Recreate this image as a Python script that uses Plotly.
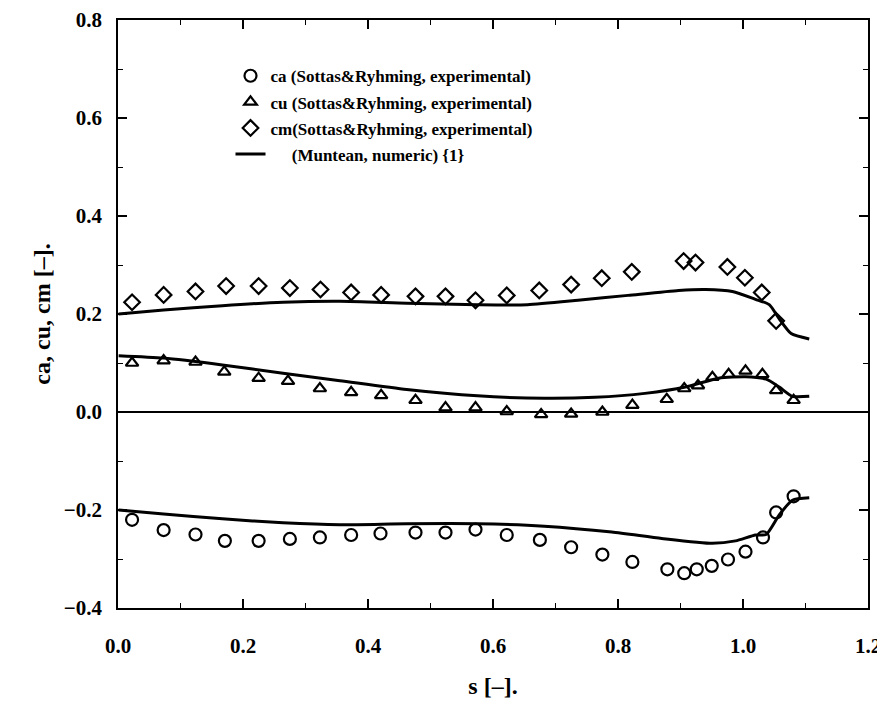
import plotly.graph_objects as go

# ---- experimental data (Sottas & Ryhming) ----
ca_s = [0.0225, 0.073, 0.124, 0.171, 0.225, 0.275, 0.323, 0.373, 0.420, 0.476, 0.524, 0.572,
        0.622, 0.675, 0.725, 0.775, 0.823, 0.879, 0.906, 0.926, 0.950, 0.976, 1.004, 1.032, 1.053, 1.081]
ca_v = [-0.220, -0.241, -0.250, -0.263, -0.263, -0.259, -0.256, -0.251, -0.248, -0.246, -0.246, -0.240,
        -0.251, -0.261, -0.276, -0.291, -0.306, -0.321, -0.329, -0.321, -0.314, -0.301, -0.285, -0.256, -0.205, -0.172]

cu_s = [0.0225, 0.073, 0.124, 0.170, 0.225, 0.272, 0.323, 0.373, 0.421, 0.476, 0.524, 0.572,
        0.622, 0.677, 0.725, 0.775, 0.823, 0.878, 0.906, 0.928, 0.951, 0.977, 1.004, 1.031, 1.053, 1.081]
cu_v = [0.100, 0.105, 0.102, 0.082, 0.069, 0.063, 0.048, 0.040, 0.034, 0.024, 0.009, 0.009,
        0.001, -0.005, -0.004, 0.000, 0.014, 0.026, 0.048, 0.054, 0.071, 0.077, 0.084, 0.077, 0.044, 0.024]

cm_s = [0.0225, 0.073, 0.124, 0.173, 0.225, 0.275, 0.324, 0.373, 0.421, 0.476, 0.524, 0.572,
        0.622, 0.674, 0.725, 0.774, 0.822, 0.905, 0.924, 0.975, 1.003, 1.030, 1.053]
cm_v = [0.224, 0.239, 0.246, 0.257, 0.257, 0.253, 0.250, 0.244, 0.239, 0.236, 0.236, 0.228,
        0.238, 0.248, 0.260, 0.273, 0.286, 0.308, 0.305, 0.296, 0.274, 0.244, 0.186]

# ---- numeric data (Muntean) ----
ca_num_s = [0.001, 0.073, 0.167, 0.264, 0.355, 0.462, 0.575, 0.682, 0.790, 0.870, 0.951, 0.988,
            1.020, 1.037, 1.058, 1.079, 1.106]
ca_num_v = [-0.200, -0.208, -0.218, -0.226, -0.230, -0.228, -0.228, -0.233, -0.245, -0.258, -0.268, -0.263,
            -0.251, -0.250, -0.210, -0.180, -0.175]

cu_num_s = [0.001, 0.073, 0.167, 0.264, 0.355, 0.462, 0.575, 0.682, 0.763, 0.843, 0.908, 0.961,
            1.004, 1.037, 1.058, 1.079, 1.106]
cu_num_v = [0.115, 0.110, 0.096, 0.079, 0.064, 0.046, 0.033, 0.028, 0.030, 0.038, 0.051, 0.069,
            0.072, 0.067, 0.051, 0.032, 0.032]

cm_num_s = [0.001, 0.073, 0.167, 0.264, 0.355, 0.462, 0.575, 0.655, 0.736, 0.816, 0.897, 0.940,
            0.983, 1.020, 1.042, 1.058, 1.077, 1.106]
cm_num_v = [0.200, 0.208, 0.217, 0.224, 0.226, 0.222, 0.219, 0.219, 0.228, 0.238, 0.248, 0.250,
            0.246, 0.230, 0.219, 0.190, 0.160, 0.149]

legend_names = ["ca (Sottas&Ryhming, experimental)",
                "cu (Sottas&Ryhming, experimental)",
                "cm(Sottas&Ryhming, experimental)",
                "     (Muntean, numeric) {1}"]

FONT = "Liberation Serif"

num_x = ca_num_s + [None] + cu_num_s + [None] + cm_num_s
num_y = ca_num_v + [None] + cu_num_v + [None] + cm_num_v

fig = go.Figure()
fig.add_trace(go.Scatter(x=ca_s, y=ca_v, mode="markers", name=legend_names[0], legendgroup="a",
                         marker=dict(symbol="circle-open", size=12, color="black", line=dict(width=2.2))))
fig.add_trace(go.Scatter(x=cu_s, y=cu_v, mode="markers", name=legend_names[1], legendgroup="b",
                         marker=dict(symbol="triangle-up-open", size=11, color="black", line=dict(width=2.2))))
fig.add_trace(go.Scatter(x=cm_s, y=cm_v, mode="markers", name=legend_names[2], legendgroup="c",
                         marker=dict(symbol="diamond-open", size=12, color="black", line=dict(width=2.2))))
fig.add_trace(go.Scatter(x=num_x, y=num_y, mode="lines", name=legend_names[3], legendgroup="d",
                         connectgaps=False, line=dict(color="black", width=3, shape="spline", smoothing=0.6)))

axis_common = dict(showline=True, mirror="allticks", linecolor="black", linewidth=1.5,
                   ticks="inside", ticklen=9, tickwidth=1.5, tickcolor="black",
                   showgrid=False, automargin=False, ticklabeloverflow="allow",
                   tickfont=dict(family=FONT, size=21, color="black", weight="bold"),
                   minor=dict(ticks="inside", ticklen=5, tickwidth=1.2, tickcolor="black"))

fig.update_xaxes(range=[0, 1.2], dtick=0.2, tickformat=".1f", zeroline=False,
                 minor_dtick=0.1, ticklabelstandoff=18,
                 title=dict(text="s [–].", font=dict(family=FONT, size=24, color="black", weight="bold"),
                            standoff=20),
                 **axis_common)
fig.update_yaxes(range=[-0.4, 0.8], dtick=0.2, tickformat=".1f",
                 zeroline=True, zerolinecolor="black", zerolinewidth=2,
                 minor_dtick=0.1, ticklabelstandoff=10,
                 title=dict(text="ca, cu, cm [–].", font=dict(family=FONT, size=24, color="black", weight="bold"),
                            standoff=6),
                 **axis_common)

fig.update_layout(
    width=877, height=692,
    margin=dict(l=110, r=17, t=12, b=92),
    plot_bgcolor="white", paper_bgcolor="white",
    showlegend=True,
    legend=dict(x=0.150, y=0.935, xanchor="left", yanchor="top",
                bgcolor="rgba(0,0,0,0)", borderwidth=0,
                traceorder="grouped", tracegroupgap=1,
                font=dict(family=FONT, size=17, color="black", weight="bold"),
                itemwidth=30),
)

fig.write_html("out.html")
